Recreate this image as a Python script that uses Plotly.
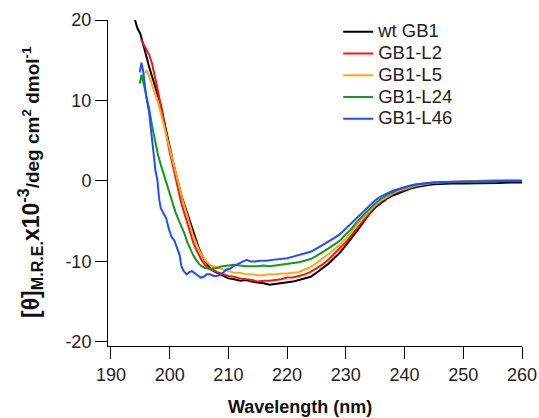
import plotly.graph_objects as go

# ---- data (wavelength nm, [theta] x10^-3) ----
wt_x = [194.1, 194.5, 195.0, 195.5, 196.0, 196.5, 197.0, 197.5, 198.0, 198.5, 199.0, 199.5, 200.0, 200.5, 201.0, 201.5, 202.0, 202.5, 203.0, 203.5, 204.0, 204.5, 205.0, 205.5, 206.0, 206.5, 207.0, 207.5, 208.0, 209.0, 210.0, 211.0, 212.0, 213.0, 214.0, 215.0, 216.0, 217.0, 218.0, 219.0, 220.0, 221.0, 222.0, 223.0, 224.0, 225.0, 226.0, 227.0, 228.0, 229.0, 230.0, 231.0, 232.0, 233.0, 234.0, 235.0, 236.0, 237.0, 238.0, 239.0, 240.0, 241.0, 242.0, 243.0, 244.0, 245.0, 246.0, 248.0, 250.0, 252.0, 254.0, 256.0, 258.0, 260.0]
wt_y = [20.0, 19.0, 18.3, 16.8, 15.6, 14.2, 13.0, 12.0, 10.8, 9.4, 7.6, 5.8, 4.0, 2.6, 1.1, -0.5, -1.8, -2.9, -4.0, -5.1, -6.4, -7.5, -8.4, -9.2, -9.9, -10.4, -10.9, -11.2, -11.4, -11.8, -12.1, -12.2, -12.4, -12.3, -12.5, -12.6, -12.7, -12.9, -12.8, -12.7, -12.6, -12.5, -12.3, -12.1, -11.9, -11.4, -10.9, -10.3, -9.6, -8.9, -8.0, -7.1, -6.1, -5.1, -4.1, -3.3, -2.7, -2.2, -1.8, -1.5, -1.2, -0.95, -0.75, -0.6, -0.5, -0.4, -0.35, -0.3, -0.3, -0.3, -0.25, -0.25, -0.2, -0.2]

l2_x = [195.1, 195.5, 196.0, 196.5, 197.0, 197.5, 198.0, 198.5, 199.0, 199.5, 200.0, 200.5, 201.0, 201.5, 202.0, 202.5, 203.0, 203.5, 204.0, 204.5, 205.0, 205.5, 206.0, 206.5, 207.0, 207.5, 208.0, 209.0, 210.0, 211.0, 212.0, 213.0, 214.0, 215.0, 216.0, 217.0, 218.0, 219.0, 220.0, 221.0, 222.0, 223.0, 224.0, 225.0, 226.0, 227.0, 228.0, 229.0, 230.0, 231.0, 232.0, 233.0, 234.0, 235.0, 236.0, 237.0, 238.0, 239.0, 240.0, 241.0, 242.0, 243.0, 244.0, 245.0, 246.0, 248.0, 250.0, 252.0, 254.0, 256.0, 258.0, 260.0]
l2_y = [17.6, 17.0, 16.4, 15.7, 14.6, 13.0, 11.2, 9.3, 7.3, 5.3, 3.6, 2.0, 0.4, -1.3, -2.8, -4.0, -5.3, -6.5, -7.6, -8.5, -9.3, -9.9, -10.4, -10.8, -11.0, -11.1, -11.3, -11.6, -11.8, -11.9, -12.1, -12.2, -12.3, -12.5, -12.4, -12.4, -12.3, -12.2, -12.0, -12.0, -11.8, -11.6, -11.3, -10.9, -10.4, -9.8, -9.1, -8.4, -7.6, -6.7, -5.8, -4.9, -3.9, -3.1, -2.5, -2.0, -1.6, -1.3, -1.0, -0.8, -0.6, -0.45, -0.35, -0.25, -0.2, -0.1, -0.05, 0.0, 0.05, 0.05, 0.1, 0.1]

l5_x = [195.8, 196.1, 196.5, 197.0, 197.5, 198.0, 198.5, 199.0, 199.5, 200.0, 200.5, 201.0, 201.5, 202.0, 202.5, 203.0, 203.5, 204.0, 204.5, 205.0, 205.5, 206.0, 206.5, 207.0, 208.0, 209.0, 210.0, 211.0, 212.0, 213.0, 214.0, 215.0, 216.0, 217.0, 218.0, 219.0, 220.0, 221.0, 222.0, 223.0, 224.0, 225.0, 226.0, 227.0, 228.0, 229.0, 230.0, 231.0, 232.0, 233.0, 234.0, 235.0, 236.0, 237.0, 238.0, 239.0, 240.0, 241.0, 242.0, 243.0, 244.0, 245.0, 246.0, 248.0, 250.0, 252.0, 254.0, 256.0, 258.0, 260.0]
l5_y = [13.4, 13.8, 13.0, 11.9, 10.9, 9.8, 8.4, 6.9, 5.4, 4.0, 2.6, 1.1, -0.5, -1.8, -3.1, -4.4, -5.7, -6.8, -7.7, -8.6, -9.2, -9.8, -10.2, -10.5, -10.7, -11.0, -11.2, -11.4, -11.4, -11.6, -11.6, -11.7, -11.7, -11.6, -11.6, -11.5, -11.5, -11.4, -11.3, -11.0, -10.7, -10.2, -9.7, -9.1, -8.5, -7.9, -7.1, -6.3, -5.4, -4.5, -3.7, -3.0, -2.4, -1.9, -1.5, -1.2, -0.95, -0.75, -0.55, -0.4, -0.3, -0.2, -0.15, -0.1, -0.05, 0.0, 0.0, 0.05, 0.05, 0.1]

l24_x = [194.9, 195.2, 195.6, 196.0, 196.5, 197.0, 197.5, 198.0, 198.5, 199.0, 199.5, 200.0, 200.5, 201.0, 201.5, 202.0, 202.5, 203.0, 203.5, 204.0, 204.5, 205.0, 205.5, 206.0, 207.0, 208.0, 209.0, 210.0, 211.0, 212.0, 213.0, 214.0, 215.0, 216.0, 217.0, 218.0, 219.0, 220.0, 221.0, 222.0, 223.0, 224.0, 225.0, 226.0, 227.0, 228.0, 229.0, 230.0, 231.0, 232.0, 233.0, 234.0, 235.0, 236.0, 237.0, 238.0, 239.0, 240.0, 241.0, 242.0, 243.0, 244.0, 245.0, 246.0, 248.0, 250.0, 252.0, 254.0, 256.0, 258.0, 260.0]
l24_y = [12.1, 13.2, 12.0, 10.8, 9.0, 6.9, 5.0, 3.3, 2.0, 0.8, -0.5, -1.8, -2.9, -3.9, -4.8, -5.6, -6.5, -7.6, -8.5, -9.2, -9.8, -10.3, -10.6, -10.8, -10.9, -10.8, -10.6, -10.5, -10.4, -10.5, -10.6, -10.6, -10.6, -10.5, -10.6, -10.5, -10.4, -10.3, -10.2, -10.1, -9.9, -9.7, -9.3, -8.9, -8.4, -7.9, -7.4, -6.6, -5.9, -5.0, -4.2, -3.5, -2.8, -2.2, -1.75, -1.35, -1.05, -0.8, -0.6, -0.45, -0.35, -0.25, -0.2, -0.15, -0.1, -0.1, -0.05, -0.05, 0.0, 0.0, 0.0]

l46_x = [194.9, 195.2, 195.5, 196.0, 196.5, 197.0, 197.3, 197.6, 197.9, 198.2, 198.5, 199.0, 199.4, 199.8, 200.3, 200.8, 201.3, 201.7, 202.0, 202.4, 202.9, 203.4, 203.8, 204.3, 204.8, 205.3, 205.8, 206.3, 206.9, 207.5, 208.0, 208.6, 209.2, 209.7, 210.3, 210.8, 211.4, 212.0, 212.6, 213.1, 213.8, 214.5, 215.4, 216.5, 217.5, 218.8, 220.0, 221.0, 222.0, 223.0, 224.0, 225.0, 226.0, 227.0, 228.0, 229.0, 230.0, 231.0, 232.0, 233.0, 234.0, 235.0, 236.0, 237.0, 238.0, 239.0, 240.0, 241.0, 242.0, 243.0, 244.0, 245.0, 246.0, 248.0, 250.0, 252.0, 254.0, 256.0, 258.0, 260.0]
l46_y = [13.5, 14.7, 13.6, 10.5, 8.5, 5.5, 3.0, 1.2, 0.2, -2.2, -3.4, -4.0, -4.6, -5.8, -6.9, -7.4, -8.3, -9.2, -10.6, -11.2, -11.6, -11.3, -11.2, -11.5, -11.8, -12.0, -11.9, -11.6, -11.6, -11.8, -11.8, -11.7, -11.3, -11.0, -10.9, -10.6, -10.4, -10.2, -9.9, -9.8, -10.0, -10.0, -9.9, -9.9, -9.8, -9.7, -9.6, -9.4, -9.2, -9.0, -8.8, -8.4, -8.0, -7.6, -7.1, -6.6, -5.9, -5.2, -4.4, -3.7, -3.0, -2.4, -1.9, -1.5, -1.2, -1.0, -0.75, -0.55, -0.4, -0.3, -0.25, -0.2, -0.15, -0.1, -0.1, -0.05, -0.05, 0.0, 0.0, 0.0]

names = ["wt GB1", "GB1-L2", "GB1-L5", "GB1-L24", "GB1-L46"]
colors = ["#000000", "#f01818", "#ffa91a", "#149a14", "#1f4fff"]
series_x = [wt_x, l2_x, l5_x, l24_x, l46_x]
series_y = [wt_y, l2_y, l5_y, l24_y, l46_y]

x_ticks = [190, 200, 210, 220, 230, 240, 250, 260]
y_ticks = [-20, -10, 0, 10, 20]
y_ticklabels = ["-20", "-10", "0", "10", "20"]

FONT = "Liberation Sans, Arial, sans-serif"

fig = go.Figure()
for n, c, xs, ys in zip(names, colors, series_x, series_y):
    fig.add_trace(go.Scatter(x=xs, y=ys, mode="lines",
                             name="<span style='font-size:18.5px'>" + n + "</span>",
                             line=dict(color=c, width=2)))

fig.update_layout(
    width=539, height=418,
    margin=dict(l=108, r=17, t=20, b=72, autoexpand=False),
    paper_bgcolor="white", plot_bgcolor="white",
    font=dict(family=FONT, color="#222222", size=18),
    showlegend=True,
    legend=dict(x=0.556, y=1 - (75.5 - 20) / 326, xanchor="left", yanchor="middle",
                bgcolor="rgba(0,0,0,0)", borderwidth=0,
                font=dict(size=14.4, color="#222222", family=FONT),
                itemwidth=30, tracegroupgap=0),
    xaxis=dict(range=[189.5, 260], tickvals=x_ticks, ticks="outside", ticklen=12,
               tickcolor="black", tickwidth=1, showline=True, linecolor="black",
               linewidth=1, showgrid=False, zeroline=False,
               tickfont=dict(size=18, family=FONT, color="#222222")),
    yaxis=dict(range=[-20.5, 20], tickvals=y_ticks, ticktext=y_ticklabels,
               ticks="outside", ticklen=12,
               tickcolor="black", tickwidth=1, showline=True, linecolor="black",
               linewidth=1, showgrid=False, zeroline=False,
               tickfont=dict(size=18, family=FONT, color="#222222")),
    annotations=[
        dict(text="<b>Wavelength (nm)</b>", xref="paper", yref="paper",
             x=(300 - 108) / 414, y=-(407 - 346) / 326, xanchor="center", yanchor="middle",
             showarrow=False, font=dict(size=18, family=FONT, color="#111111")),
        dict(text="<b>[θ]<sub>M.R.E.</sub>x10<sup>-3</sup><span style='font-size:19px'>/deg cm<sup>2</sup> dmol<sup>-1</sup></span></b>",
             xref="paper", yref="paper", x=-(108 - 30) / 414, y=(346 - 182) / 326,
             xanchor="center", yanchor="middle", textangle=-90, showarrow=False,
             font=dict(size=23, family=FONT, color="#111111")),
    ],
)

fig.write_html("out.html")
